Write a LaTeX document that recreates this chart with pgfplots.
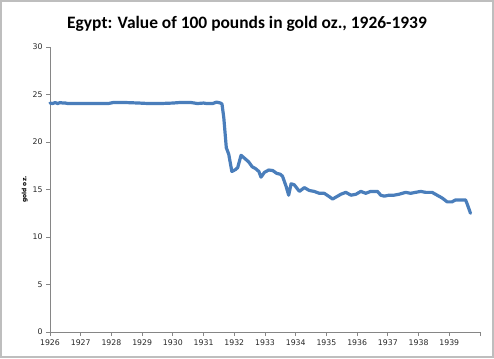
\documentclass[border=0pt]{standalone}
\usepackage{pgfplots}
\pgfplotsset{compat=1.18}
\usepackage{fontspec}
\setmainfont{Carlito}
\newfontfamily\tickfont{DejaVu Sans}
\definecolor{lineblue}{RGB}{74,126,187}
\definecolor{axgray}{RGB}{134,134,134}
\definecolor{bordergray}{RGB}{190,190,190}
\begin{document}
\begin{tikzpicture}[x=1bp,y=1bp]
\path[use as bounding box] (0,0) rectangle (494,358);
\draw[bordergray, line width=2bp] (1,1) rectangle (493,357);
\node[font=\bfseries\fontsize{17.5}{20}\selectfont] at (247,334) {Egypt: Value of 100 pounds in gold oz., 1926-1939};
\begin{axis}[
  at={(50bp,26bp)}, anchor=south west, scale only axis,
  width=430bp, height=285bp,
  xmin=1926, xmax=1940, ymin=0, ymax=30,
  axis x line=bottom, axis y line=left,
  axis line style={draw=axgray, line width=0.8bp, -},
  xtick={1926,1927,1928,1929,1930,1931,1932,1933,1934,1935,1936,1937,1938,1939,1940},
  xticklabels={1926,1927,1928,1929,1930,1931,1932,1933,1934,1935,1936,1937,1938,1939,{}},
  ytick={0,5,10,15,20,25,30},
  /pgf/number format/assume math mode=true,
  tick align=outside, major tick length=4bp,
  tick style={draw=axgray, line width=0.8bp},
  ticklabel style={font=\tickfont\fontsize{7.8}{9}\selectfont, text=black!85},
  ylabel={gold oz.},
  ylabel style={font=\tickfont\bfseries\fontsize{6}{7}\selectfont, yshift=-2bp},
  clip=false,
]
\addplot[lineblue, line width=3.2bp, line join=round, line cap=round] coordinates {
(1926.00,24.10) (1926.08,24.05) (1926.17,24.15) (1926.25,24.05) (1926.33,24.15)
(1926.42,24.10) (1926.50,24.10) (1926.58,24.05) (1926.75,24.05) (1927.00,24.05)
(1927.50,24.05) (1927.90,24.05) (1928.05,24.15) (1928.50,24.15) (1928.90,24.10)
(1929.20,24.05) (1929.60,24.05) (1930.00,24.10) (1930.20,24.15) (1930.60,24.15)
(1930.80,24.05) (1931.00,24.10) (1931.10,24.05) (1931.30,24.05) (1931.42,24.20)
(1931.55,24.10) (1931.60,24.00) (1931.66,22.5) (1931.74,19.4) (1931.82,18.7)
(1931.92,16.9) (1932.04,17.1) (1932.11,17.3) (1932.22,18.6) (1932.33,18.3)
(1932.47,17.9) (1932.58,17.4) (1932.69,17.2) (1932.80,16.9) (1932.87,16.3)
(1932.98,16.8) (1933.12,17.05) (1933.25,17.0) (1933.38,16.7) (1933.50,16.6)
(1933.57,16.4) (1933.69,15.3) (1933.77,14.4) (1933.85,15.6) (1933.95,15.5)
(1934.12,14.8) (1934.28,15.2) (1934.44,14.9) (1934.60,14.8) (1934.77,14.6)
(1934.93,14.6) (1935.07,14.3) (1935.20,14.0) (1935.31,14.2) (1935.47,14.5)
(1935.63,14.7) (1935.80,14.4) (1935.96,14.5) (1936.12,14.8) (1936.28,14.6)
(1936.44,14.8) (1936.66,14.8) (1936.77,14.4) (1936.88,14.3) (1937.04,14.4)
(1937.20,14.4) (1937.36,14.5) (1937.58,14.7) (1937.74,14.6) (1937.90,14.7)
(1938.07,14.8) (1938.23,14.7) (1938.44,14.7) (1938.55,14.5) (1938.77,14.1)
(1938.93,13.7) (1939.09,13.7) (1939.20,13.9) (1939.53,13.9) (1939.58,13.5)
(1939.69,12.5)
};
\end{axis}
\end{tikzpicture}
\end{document}
